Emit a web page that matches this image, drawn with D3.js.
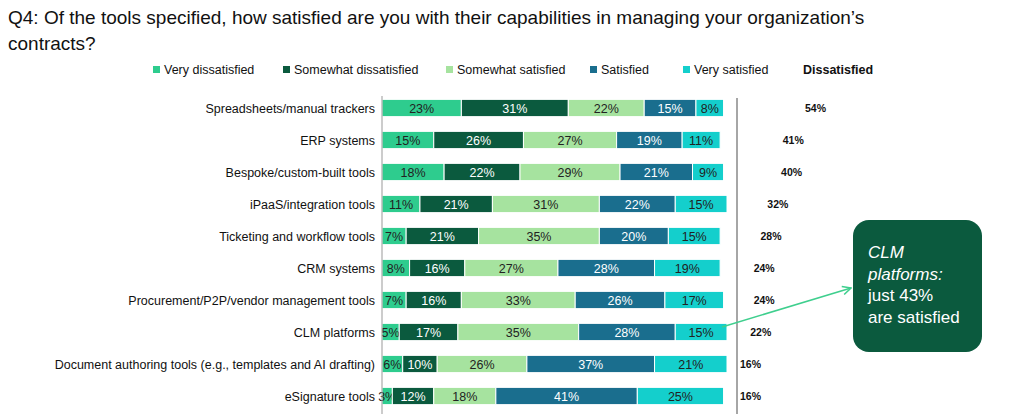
<!DOCTYPE html><html><head><meta charset="utf-8"><script src="https://d3js.org/d3.v7.min.js"></script>
<style>body{margin:0;background:#fff;font-family:Arial,"Liberation Sans",sans-serif}</style></head><body><svg id="c" width="1024" height="420"></svg>
<script>
const categories=["Spreadsheets/manual trackers","ERP systems","Bespoke/custom-built tools","iPaaS/integration tools","Ticketing and workflow tools","CRM systems","Procurement/P2P/vendor management tools","CLM platforms","Document authoring tools (e.g., templates and AI drafting)","eSignature tools"];
const seriesNames=["Very dissatisfied","Somewhat dissatisfied","Somewhat satisfied","Satisfied","Very satisfied"];
const veryDis=[23,15,18,11,7,8,7,5,6,3];
const someDis=[31,26,22,21,21,16,16,17,10,12];
const someSat=[22,27,29,31,35,27,33,35,26,18];
const sat=[15,19,21,22,20,28,26,28,37,41];
const verySat=[8,11,9,15,15,19,17,15,21,25];
const dissatisfied=[54,41,40,32,28,24,24,22,16,16];
const colors=["#2ecc8e","#0b5a3e","#a6e39f","#1a6e8e","#14cfcc"];
const textColors=["#222","#fff","#222","#fff","#222"];
const series=[veryDis,someDis,someSat,sat,verySat];
const svg=d3.select("#c");
svg.append("text").attr("x",8).attr("y",24).attr("font-size",19).attr("fill","#111").text("Q4: Of the tools specified, how satisfied are you with their capabilities in managing your organization’s");
svg.append("text").attr("x",8).attr("y",50).attr("font-size",19).attr("fill","#111").text("contracts?");
const x=d3.scaleLinear().domain([0,100]).range([382,727]);
const y=d3.scaleBand().domain(categories).range([92,412]).paddingInner(0.46).paddingOuter(0.23);
// legend
const legX=[153,283,446,590,683];
seriesNames.forEach((n,i)=>{const g=svg.append("g").attr("transform",`translate(${legX[i]},70)`);
g.append("rect").attr("x",0).attr("y",-4).attr("width",7).attr("height",7).attr("fill",colors[i]);
g.append("text").attr("x",11).attr("y",4).attr("font-size",12.5).attr("fill","#111").text(n);});
svg.append("text").attr("x",803).attr("y",74).attr("font-size",12.5).attr("font-weight","bold").attr("fill","#111").text("Dissatisfied");
categories.forEach((c,r)=>{let acc=0;const yy=y(c),h=y.bandwidth();
series.forEach((s,i)=>{const v=s[r];
svg.append("rect").attr("x",x(acc)).attr("y",yy).attr("width",x(acc+v)-x(acc)).attr("height",h).attr("fill",colors[i]).attr("stroke","#fff").attr("stroke-width",1);
svg.append("text").attr("x",(x(acc)+x(acc+v))/2).attr("y",yy+h/2+4.5).attr("text-anchor","middle").attr("font-size",12.5).attr("fill",textColors[i]).text(v+"%");
acc+=v;});
svg.append("text").attr("x",375).attr("y",yy+h/2+4.5).attr("text-anchor","end").attr("font-size",12.5).attr("fill","#111").text(c);
});
svg.append("line").attr("x1",382).attr("x2",382).attr("y1",96).attr("y2",414).attr("stroke","#999");
svg.append("line").attr("x1",737).attr("x2",737).attr("y1",98).attr("y2",414).attr("stroke","#888").attr("stroke-width",1.5);
const dx=d3.scaleLinear().domain([16,54]).range([740,805]);
categories.forEach((c,r)=>svg.append("text").attr("x",dx(dissatisfied[r])).attr("y",y(c)+y.bandwidth()/2+4).attr("font-size",10.5).attr("font-weight","bold").attr("fill","#111").text(dissatisfied[r]+"%"));
// callout
svg.append("defs").append("marker").attr("id","ar").attr("viewBox","0 0 10 10").attr("refX",9).attr("refY",5).attr("markerWidth",7).attr("markerHeight",7).attr("orient","auto")
.append("path").attr("d","M1,1L9,5L1,9").attr("fill","none").attr("stroke","#3fcf8e").attr("stroke-width",1.5);
const clm=y("CLM platforms")+y.bandwidth()/2;
svg.append("line").attr("x1",722).attr("y1",clm-5).attr("x2",851).attr("y2",288).attr("stroke","#3fcf8e").attr("stroke-width",1.5).attr("marker-end","url(#ar)");
svg.append("rect").attr("x",853).attr("y",220).attr("width",129).attr("height",132).attr("rx",16).attr("fill","#0b5a3e");
const ct=[["CLM",true],["platforms:",true],["just 43%",false],["are satisfied",false]];
ct.forEach((t,i)=>svg.append("text").attr("x",868).attr("y",258+i*21.5).attr("font-size",17).attr("fill","#fff").attr("font-style",t[1]?"italic":"normal").text(t[0]));
</script></body></html>
